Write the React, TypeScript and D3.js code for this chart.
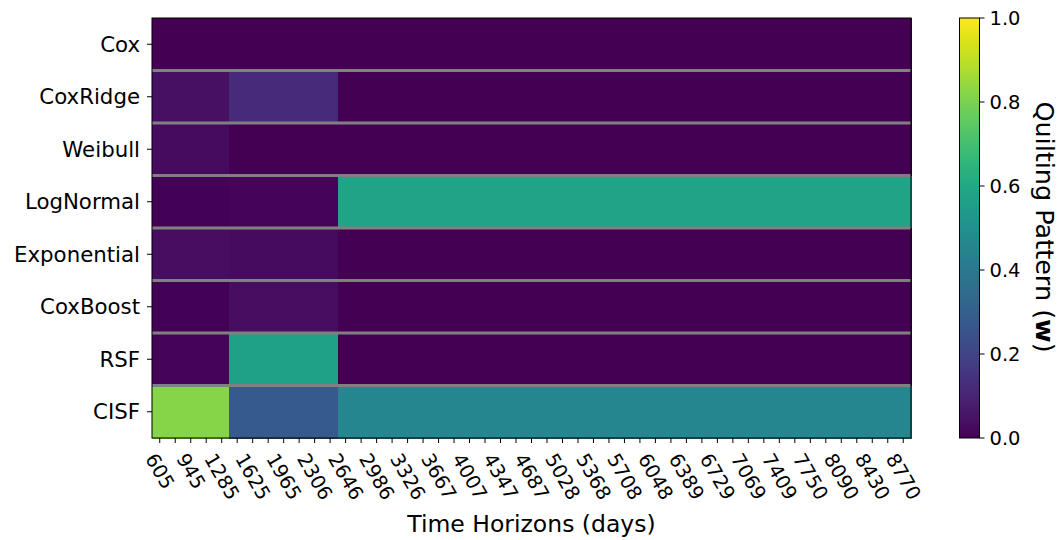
import React from "react";
import * as d3 from "d3";

const models = ["Cox", "CoxRidge", "Weibull", "LogNormal", "Exponential", "CoxBoost", "RSF", "CISF"];

const timeHorizons = [
  605, 775, 945, 1115, 1285, 1455, 1625, 1795, 1965, 2136, 2306, 2476, 2646, 2816, 2986, 3156, 3326,
  3496, 3667, 3837, 4007, 4177, 4347, 4517, 4687, 4857, 5028, 5198, 5368, 5538, 5708, 5878, 6048,
  6218, 6389, 6559, 6729, 6899, 7069, 7239, 7409, 7580, 7750, 7920, 8090, 8260, 8430, 8600, 8770,
];

const coxValues = [
  0, 0, 0, 0, 0, 0, 0, 0, 0, 0, 0, 0, 0, 0, 0, 0, 0, 0, 0, 0, 0, 0, 0, 0, 0, 0, 0, 0, 0, 0, 0, 0, 0,
  0, 0, 0, 0, 0, 0, 0, 0, 0, 0, 0, 0, 0, 0, 0, 0,
];
const coxRidgeValues = [
  0.04, 0.04, 0.04, 0.04, 0.04, 0.12, 0.12, 0.12, 0.12, 0.12, 0.12, 0.12, 0, 0, 0, 0, 0, 0, 0, 0, 0,
  0, 0, 0, 0, 0, 0, 0, 0, 0, 0, 0, 0, 0, 0, 0, 0, 0, 0, 0, 0, 0, 0, 0, 0, 0, 0, 0, 0,
];
const weibullValues = [
  0.03, 0.03, 0.03, 0.03, 0.03, 0, 0, 0, 0, 0, 0, 0, 0, 0, 0, 0, 0, 0, 0, 0, 0, 0, 0, 0, 0, 0, 0, 0,
  0, 0, 0, 0, 0, 0, 0, 0, 0, 0, 0, 0, 0, 0, 0, 0, 0, 0, 0, 0, 0,
];
const logNormalValues = [
  0.005, 0.005, 0.005, 0.005, 0.005, 0.01, 0.01, 0.01, 0.01, 0.01, 0.01, 0.01, 0.58, 0.58, 0.58,
  0.58, 0.58, 0.58, 0.58, 0.58, 0.58, 0.58, 0.58, 0.58, 0.58, 0.58, 0.58, 0.58, 0.58, 0.58, 0.58,
  0.58, 0.58, 0.58, 0.58, 0.58, 0.58, 0.58, 0.58, 0.58, 0.58, 0.58, 0.58, 0.58, 0.58, 0.58, 0.58,
  0.58, 0.58,
];
const exponentialValues = [
  0.035, 0.035, 0.035, 0.035, 0.035, 0.03, 0.03, 0.03, 0.03, 0.03, 0.03, 0.03, 0, 0, 0, 0, 0, 0, 0,
  0, 0, 0, 0, 0, 0, 0, 0, 0, 0, 0, 0, 0, 0, 0, 0, 0, 0, 0, 0, 0, 0, 0, 0, 0, 0, 0, 0, 0, 0,
];
const coxBoostValues = [
  0.005, 0.005, 0.005, 0.005, 0.005, 0.035, 0.035, 0.035, 0.035, 0.035, 0.035, 0.035, 0, 0, 0, 0, 0,
  0, 0, 0, 0, 0, 0, 0, 0, 0, 0, 0, 0, 0, 0, 0, 0, 0, 0, 0, 0, 0, 0, 0, 0, 0, 0, 0, 0, 0, 0, 0, 0,
];
const rsfValues = [
  0.01, 0.01, 0.01, 0.01, 0.01, 0.57, 0.57, 0.57, 0.57, 0.57, 0.57, 0.57, 0, 0, 0, 0, 0, 0, 0, 0, 0,
  0, 0, 0, 0, 0, 0, 0, 0, 0, 0, 0, 0, 0, 0, 0, 0, 0, 0, 0, 0, 0, 0, 0, 0, 0, 0, 0, 0,
];
const cisfValues = [
  0.82, 0.82, 0.82, 0.82, 0.82, 0.28, 0.28, 0.28, 0.28, 0.28, 0.28, 0.28, 0.46, 0.46, 0.46, 0.46,
  0.46, 0.46, 0.46, 0.46, 0.46, 0.46, 0.46, 0.46, 0.46, 0.46, 0.46, 0.46, 0.46, 0.46, 0.46, 0.46,
  0.46, 0.46, 0.46, 0.46, 0.46, 0.46, 0.46, 0.46, 0.46, 0.46, 0.46, 0.46, 0.46, 0.46, 0.46, 0.46,
  0.46,
];

const seriesValues = [
  coxValues,
  coxRidgeValues,
  weibullValues,
  logNormalValues,
  exponentialValues,
  coxBoostValues,
  rsfValues,
  cisfValues,
];

const colorbarTicks = [0, 0.2, 0.4, 0.6, 0.8, 1.0];

const W = 1062;
const H = 540;
const plot = { left: 152, right: 911, top: 18, bottom: 438 };
const cbar = { left: 959.5, right: 979.5 };
const FONT = "'DejaVu Sans', sans-serif";
const TICK_FS = 19.5;
const YTICK_FS = 21.3;

export default function App() {
  const x = d3
    .scaleBand<number>()
    .domain(d3.range(timeHorizons.length))
    .range([plot.left, plot.right]);
  const y = d3.scaleBand<string>().domain(models).range([plot.top, plot.bottom]);
  const color = d3.scaleSequential(d3.interpolateViridis).domain([0, 1]);
  const cy = d3.scaleLinear().domain([0, 1]).range([plot.bottom, plot.top]);

  const cells: React.ReactNode[] = [];
  seriesValues.forEach((vals, r) => {
    vals.forEach((v, c) => {
      cells.push(
        <rect
          key={`${r}-${c}`}
          x={x(c)!}
          y={y(models[r])!}
          width={x.bandwidth() + 0.6}
          height={y.bandwidth() + 0.6}
          fill={color(v)}
          shapeRendering="crispEdges"
        />
      );
    });
  });

  const stops = d3.range(0, 1.0001, 0.02);

  const sin60 = Math.sin(Math.PI / 3);
  const cos60 = Math.cos(Math.PI / 3);

  return (
    <div style={{ position: "absolute", left: 0, top: 0 }}>
      <svg width={W} height={H} style={{ display: "block", background: "#fff" }} fontFamily={FONT}>
        <defs>
          <linearGradient id="viridisGrad" x1="0" y1="1" x2="0" y2="0">
            {stops.map((s) => (
              <stop key={s} offset={s} stopColor={color(s)} />
            ))}
          </linearGradient>
        </defs>
        {cells}
        {models.slice(1).map((m) => (
          <line
            key={`sep-${m}`}
            x1={plot.left}
            x2={plot.right}
            y1={y(m)!}
            y2={y(m)!}
            stroke="#808080"
            strokeWidth={3}
          />
        ))}
        <rect
          x={plot.left}
          y={plot.top}
          width={plot.right - plot.left}
          height={plot.bottom - plot.top}
          fill="none"
          stroke="#000"
          strokeWidth={1}
        />
        {models.map((m) => {
          const yy = y(m)! + y.bandwidth() / 2;
          return (
            <g key={`yt-${m}`}>
              <line x1={plot.left - 5} x2={plot.left} y1={yy} y2={yy} stroke="#000" strokeWidth={1} />
              <text
                x={plot.left - 12}
                y={yy}
                textAnchor="end"
                dominantBaseline="central"
                fontSize={YTICK_FS}
                fill="#000"
              >
                {m}
              </text>
            </g>
          );
        })}
        {timeHorizons.map((t, i) => {
          const xx = x(i)! + x.bandwidth() / 2;
          const showLabel = i % 2 === 0;
          const label = String(t);
          const L = label.length * 0.636 * TICK_FS;
          const h = 1.1 * TICK_FS;
          const bh = L * sin60 + h * cos60;
          return (
            <g key={`xt-${i}`}>
              <line x1={xx} x2={xx} y1={plot.bottom} y2={plot.bottom + 5} stroke="#000" strokeWidth={1} />
              {showLabel && (
                <text
                  transform={`translate(${xx},${450 + bh / 2}) rotate(60)`}
                  textAnchor="middle"
                  dominantBaseline="central"
                  fontSize={TICK_FS}
                  fill="#000"
                >
                  {label}
                </text>
              )}
            </g>
          );
        })}
        <text
          x={(plot.left + plot.right) / 2}
          y={532}
          textAnchor="middle"
          fontSize={23.5}
          fill="#000"
        >
          Time Horizons (days)
        </text>
        <rect
          x={cbar.left}
          y={plot.top}
          width={cbar.right - cbar.left}
          height={plot.bottom - plot.top}
          fill="url(#viridisGrad)"
          stroke="#000"
          strokeWidth={1}
        />
        {colorbarTicks.map((t) => (
          <g key={`ct-${t}`}>
            <line x1={cbar.right} x2={cbar.right + 5} y1={cy(t)} y2={cy(t)} stroke="#000" strokeWidth={1} />
            <text
              x={cbar.right + 10}
              y={cy(t)}
              dominantBaseline="central"
              fontSize={TICK_FS}
              fill="#000"
            >
              {t.toFixed(1)}
            </text>
          </g>
        ))}
        <text
          transform={`translate(1045,227) rotate(90)`}
          textAnchor="middle"
          dominantBaseline="central"
          fontSize={25.5}
          fill="#000"
        >
          Quilting Pattern (<tspan fontWeight="bold">w</tspan>)
        </text>
      </svg>
    </div>
  );
}
